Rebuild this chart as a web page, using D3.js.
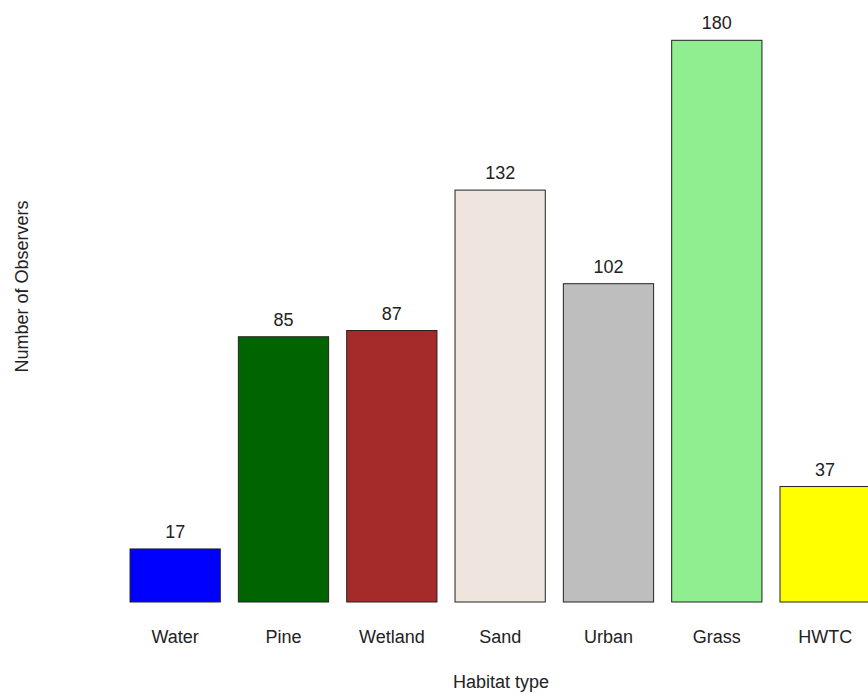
<!DOCTYPE html>
<html>
<head>
<meta charset="utf-8">
<script src="https://cdn.jsdelivr.net/npm/d3@7"></script>
<style>
  html, body { margin: 0; padding: 0; background: #fff; }
  svg { display: block; }
  text { font-family: "Liberation Sans", Arial, Helvetica, sans-serif; fill: #222; }
</style>
</head>
<body>
<svg id="chart" width="868" height="700"></svg>
<script>
// Observers per habitat type
const categories = ["Water", "Pine", "Wetland", "Sand", "Urban", "Grass", "HWTC"];
const observers = [17, 85, 87, 132, 102, 180, 37];
const barColors = ["#0000FF", "#006400", "#A52A2A", "#EEE5DE", "#BEBEBE", "#90EE90", "#FFFF00"];

const svg = d3.select("#chart");

const baseline = 602;
const x = d3.scaleBand()
  .domain(categories)
  .range([121, 879.3])
  .paddingInner(1 / 6)
  .paddingOuter(1 / 12);

const y = d3.scaleLinear()
  .domain([0, 180])
  .range([baseline, 40.3]);

const data = categories.map((c, i) => ({ cat: c, value: observers[i], color: barColors[i] }));

// bars
svg.append("g")
  .selectAll("rect")
  .data(data)
  .join("rect")
  .attr("x", d => x(d.cat))
  .attr("y", d => y(d.value))
  .attr("width", x.bandwidth())
  .attr("height", d => y(0) - y(d.value))
  .attr("fill", d => d.color)
  .attr("stroke", "#222")
  .attr("stroke-width", 1);

// value labels above bars
svg.append("g")
  .selectAll("text")
  .data(data)
  .join("text")
  .attr("x", d => x(d.cat) + x.bandwidth() / 2)
  .attr("y", d => y(d.value) - 11)
  .attr("text-anchor", "middle")
  .attr("font-size", 18)
  .text(d => d.value);

// category axis (labels only, no line or ticks)
const xAxis = svg.append("g")
  .attr("transform", `translate(0,${baseline})`)
  .call(d3.axisBottom(x).tickSize(0).tickPadding(0));
xAxis.select(".domain").remove();
xAxis.selectAll("text")
  .attr("font-size", 18)
  .attr("dy", null)
  .attr("y", 41)
  .style("font-family", "\"Liberation Sans\", Arial, sans-serif")
  .attr("fill", "#222");

// axis titles
svg.append("text")
  .attr("x", 501)
  .attr("y", 688)
  .attr("text-anchor", "middle")
  .attr("font-size", 18)
  .text("Habitat type");

svg.append("text")
  .attr("transform", "translate(28,286.5) rotate(-90)")
  .attr("text-anchor", "middle")
  .attr("font-size", 18)
  .text("Number of Observers");
</script>
</body>
</html>
